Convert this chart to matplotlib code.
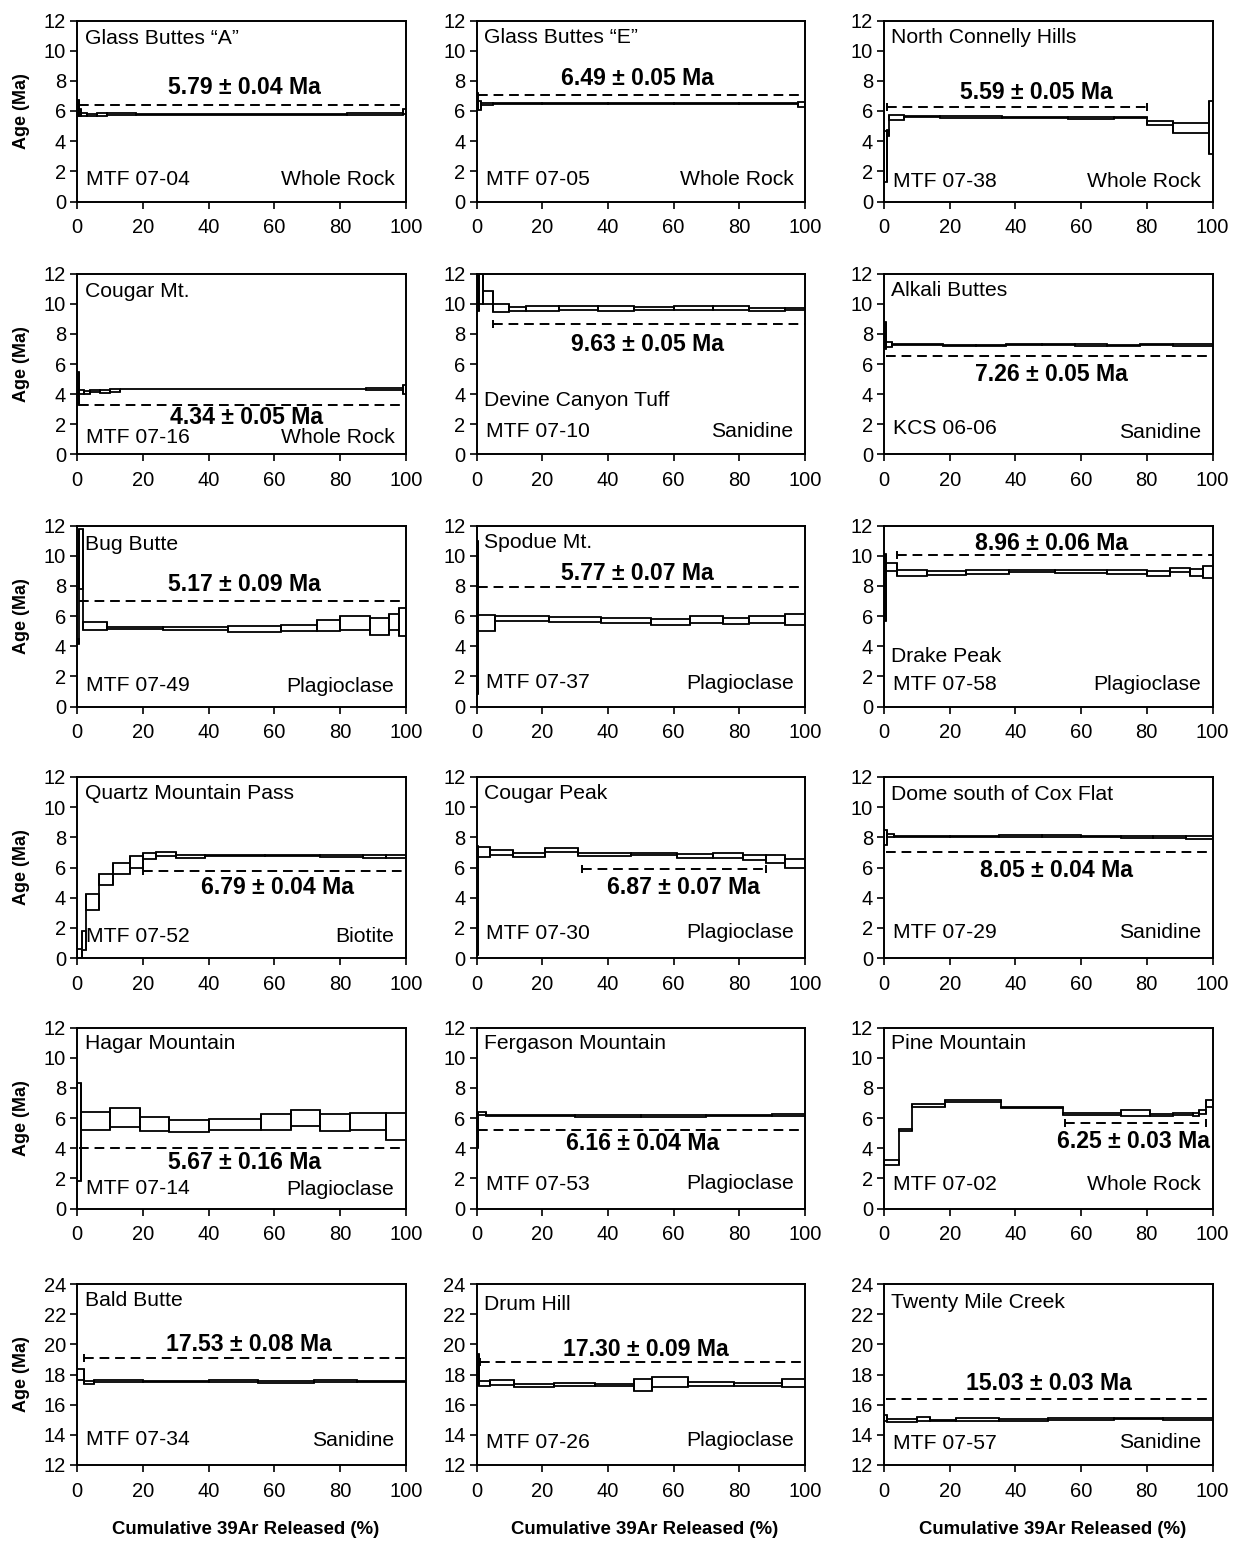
import matplotlib
matplotlib.use("Agg")
import matplotlib.pyplot as plt

plt.rcParams['font.family'] = ['Liberation Sans', 'DejaVu Sans']

# ---- step heating data: step edges (cumulative %), apparent age, 1-sigma half height
gba_edges = [0, 0.5, 1, 3, 6, 9, 18, 82, 99, 100]
gba_age = [6.2, 5.9, 5.8, 5.76, 5.78, 5.8, 5.79, 5.8, 5.95]
gba_err = [0.55, 0.2, 0.1, 0.07, 0.08, 0.04, 0.03, 0.04, 0.18]

gbe_edges = [0, 0.5, 1.5, 5, 20, 40, 60, 80, 98, 100]
gbe_age = [6.7, 6.35, 6.45, 6.48, 6.5, 6.49, 6.5, 6.48, 6.42]
gbe_err = [0.5, 0.3, 0.08, 0.04, 0.04, 0.04, 0.04, 0.04, 0.15]

nch_edges = [0, 0.8, 1.5, 6, 17, 36, 56, 70, 80, 88, 99, 100]
nch_age = [3.0, 4.55, 5.58, 5.62, 5.6, 5.58, 5.52, 5.57, 5.2, 4.86, 4.9]
nch_err = [1.7, 0.2, 0.15, 0.05, 0.05, 0.05, 0.05, 0.05, 0.13, 0.33, 1.75]

cgm_edges = [0, 0.5, 2, 4, 7, 10, 13, 88, 99, 100]
cgm_age = [4.4, 4.15, 4.12, 4.2, 4.15, 4.25, 4.34, 4.33, 4.3]
cgm_err = [1.1, 0.15, 0.1, 0.08, 0.1, 0.08, 0.03, 0.05, 0.3]

dct_edges = [0, 0.8, 2, 5, 10, 15, 25, 37, 48, 60, 72, 83, 94, 100]
dct_age = [11.0, 11.0, 10.4, 9.7, 9.64, 9.7, 9.72, 9.68, 9.68, 9.7, 9.72, 9.6, 9.62]
dct_err = [1.5, 1.0, 0.43, 0.28, 0.15, 0.17, 0.15, 0.15, 0.12, 0.13, 0.15, 0.08, 0.06]

akb_edges = [0, 0.5, 2.5, 18, 28, 37, 48, 58, 68, 78, 88, 100]
akb_age = [7.9, 7.3, 7.3, 7.25, 7.24, 7.27, 7.28, 7.26, 7.24, 7.27, 7.25]
akb_err = [0.9, 0.15, 0.05, 0.04, 0.04, 0.04, 0.04, 0.04, 0.04, 0.04, 0.05]

bgb_edges = [0, 0.6, 1.6, 9, 26, 46, 62, 73, 80, 89, 95, 98, 100]
bgb_age = [4.3, 9.8, 5.35, 5.18, 5.17, 5.13, 5.2, 5.36, 5.53, 5.3, 5.6, 5.6]
bgb_err = [0.15, 2.0, 0.27, 0.07, 0.07, 0.18, 0.22, 0.36, 0.47, 0.57, 0.5, 0.93]

spm_edges = [0, 0.5, 5.5, 22, 38, 53, 65, 75, 83, 94, 100]
spm_age = [5.9, 5.53, 5.83, 5.78, 5.68, 5.59, 5.78, 5.67, 5.78, 5.78]
spm_err = [5.1, 0.53, 0.17, 0.15, 0.17, 0.19, 0.22, 0.22, 0.22, 0.38]

dkp_edges = [0, 0.5, 4, 13, 25, 38, 52, 68, 80, 87, 93, 97, 100]
dkp_age = [7.9, 9.27, 8.86, 8.87, 8.9, 8.97, 8.95, 8.93, 8.8, 9.06, 8.87, 8.93]
dkp_err = [2.2, 0.27, 0.22, 0.13, 0.12, 0.08, 0.08, 0.15, 0.16, 0.11, 0.23, 0.4]

qmp_edges = [0, 1.5, 2.5, 6.5, 11, 16, 20, 24, 30, 39, 57, 74, 87, 94, 100]
qmp_age = [0.3, 1.16, 3.72, 5.2, 5.95, 6.38, 6.77, 6.9, 6.72, 6.78, 6.8, 6.77, 6.72, 6.72]
qmp_err = [0.3, 0.66, 0.52, 0.36, 0.38, 0.38, 0.22, 0.13, 0.08, 0.05, 0.05, 0.05, 0.1, 0.12]

cgp_edges = [0, 0.6, 4, 11, 21, 31, 47, 61, 72, 81, 88, 94, 100]
cgp_age = [3.8, 7.0, 7.0, 6.8, 7.16, 6.88, 6.88, 6.76, 6.79, 6.66, 6.55, 6.27]
cgp_err = [3.6, 0.33, 0.17, 0.13, 0.11, 0.1, 0.08, 0.11, 0.19, 0.17, 0.27, 0.27]

dcf_edges = [0, 1, 3, 20, 35, 48, 60, 72, 82, 92, 100]
dcf_age = [8.0, 8.15, 8.05, 8.05, 8.1, 8.08, 8.05, 8.0, 8.02, 8.0]
dcf_err = [0.5, 0.1, 0.06, 0.05, 0.06, 0.05, 0.05, 0.06, 0.05, 0.1]

hgm_edges = [0, 1, 10, 19, 28, 40, 56, 65, 74, 83, 94, 100]
hgm_age = [5.05, 5.8, 6.03, 5.6, 5.5, 5.55, 5.73, 5.98, 5.7, 5.75, 5.43]
hgm_err = [3.25, 0.6, 0.63, 0.46, 0.4, 0.37, 0.53, 0.52, 0.55, 0.55, 0.88]

fgm_edges = [0, 0.5, 3, 30, 50, 70, 90, 100]
fgm_age = [5.15, 6.3, 6.18, 6.12, 6.14, 6.15, 6.2]
fgm_err = [1.15, 0.1, 0.05, 0.05, 0.05, 0.05, 0.07]

pnm_edges = [0, 4.5, 8.5, 18.5, 35.5, 54.5, 72, 81, 88, 94, 96, 98, 100]
pnm_age = [3.04, 5.22, 6.82, 7.15, 6.68, 6.28, 6.32, 6.2, 6.27, 6.2, 6.4, 6.94]
pnm_err = [0.17, 0.08, 0.08, 0.06, 0.05, 0.05, 0.2, 0.09, 0.06, 0.1, 0.16, 0.24]

bdb_edges = [0, 2, 5, 20, 40, 55, 72, 85, 100]
bdb_age = [18.0, 17.5, 17.55, 17.53, 17.55, 17.52, 17.56, 17.53]
bdb_err = [0.35, 0.1, 0.07, 0.06, 0.06, 0.06, 0.06, 0.06]

drh_edges = [0, 0.7, 4, 11.5, 23.5, 36, 48, 53.5, 64.5, 78.5, 93, 100]
drh_age = [18.33, 17.41, 17.48, 17.28, 17.36, 17.3, 17.32, 17.5, 17.37, 17.35, 17.42]
drh_err = [1.0, 0.19, 0.15, 0.1, 0.09, 0.08, 0.39, 0.32, 0.15, 0.08, 0.25]

tmc_edges = [0, 1, 10, 14, 22, 35, 50, 70, 85, 100]
tmc_age = [15.1, 14.95, 15.05, 14.95, 15.0, 14.97, 15.05, 15.08, 15.05]
tmc_err = [0.2, 0.08, 0.1, 0.06, 0.1, 0.05, 0.05, 0.06, 0.06]

# ---- labels
names = ['Glass Buttes \u201cA\u201d', 'Glass Buttes \u201cE\u201d', 'North Connelly Hills',
         'Cougar Mt.', 'Devine Canyon Tuff', 'Alkali Buttes',
         'Bug Butte', 'Spodue Mt.', 'Drake Peak',
         'Quartz Mountain Pass', 'Cougar Peak', 'Dome south of Cox Flat',
         'Hagar Mountain', 'Fergason Mountain', 'Pine Mountain',
         'Bald Butte', 'Drum Hill', 'Twenty Mile Creek']
sample_ids = ['MTF 07-04', 'MTF 07-05', 'MTF 07-38',
              'MTF 07-16', 'MTF 07-10', 'KCS 06-06',
              'MTF 07-49', 'MTF 07-37', 'MTF 07-58',
              'MTF 07-52', 'MTF 07-30', 'MTF 07-29',
              'MTF 07-14', 'MTF 07-53', 'MTF 07-02',
              'MTF 07-34', 'MTF 07-26', 'MTF 07-57']
minerals = ['Whole Rock', 'Whole Rock', 'Whole Rock',
            'Whole Rock', 'Sanidine', 'Sanidine',
            'Plagioclase', 'Plagioclase', 'Plagioclase',
            'Biotite', 'Plagioclase', 'Sanidine',
            'Plagioclase', 'Plagioclase', 'Whole Rock',
            'Sanidine', 'Plagioclase', 'Sanidine']
plateau_ages = ['5.79 \u00b1 0.04 Ma', '6.49 \u00b1 0.05 Ma', '5.59 \u00b1 0.05 Ma',
                '4.34 \u00b1 0.05 Ma', '9.63 \u00b1 0.05 Ma', '7.26 \u00b1 0.05 Ma',
                '5.17 \u00b1 0.09 Ma', '5.77 \u00b1 0.07 Ma', '8.96 \u00b1 0.06 Ma',
                '6.79 \u00b1 0.04 Ma', '6.87 \u00b1 0.07 Ma', '8.05 \u00b1 0.04 Ma',
                '5.67 \u00b1 0.16 Ma', '6.16 \u00b1 0.04 Ma', '6.25 \u00b1 0.03 Ma',
                '17.53 \u00b1 0.08 Ma', '17.30 \u00b1 0.09 Ma', '15.03 \u00b1 0.03 Ma']
# plateau step ranges (cumulative %)
plateau_from = [0.5, 0.5, 1, 0.5, 5, 0.5, 0.5, 0.5, 4, 20, 32, 0.5, 0.5, 0.5, 55, 2, 1, 0.5]
plateau_to = [100, 100, 80, 100, 100, 100, 100, 100, 100, 100, 88, 100, 100, 100, 98, 100, 100, 100]

steps = [(gba_edges, gba_age, gba_err), (gbe_edges, gbe_age, gbe_err), (nch_edges, nch_age, nch_err),
         (cgm_edges, cgm_age, cgm_err), (dct_edges, dct_age, dct_err), (akb_edges, akb_age, akb_err),
         (bgb_edges, bgb_age, bgb_err), (spm_edges, spm_age, spm_err), (dkp_edges, dkp_age, dkp_err),
         (qmp_edges, qmp_age, qmp_err), (cgp_edges, cgp_age, cgp_err), (dcf_edges, dcf_age, dcf_err),
         (hgm_edges, hgm_age, hgm_err), (fgm_edges, fgm_age, fgm_err), (pnm_edges, pnm_age, pnm_err),
         (bdb_edges, bdb_age, bdb_err), (drh_edges, drh_age, drh_err), (tmc_edges, tmc_age, tmc_err)]

# ---- annotation placement (y of dashed bar, label x/y, name y, id y, mineral y, end ticks)
dash_y = [6.4, 7.05, 6.25, 3.3, 8.68, 6.54, 7.0, 7.93, 10.03, 5.78, 5.9, 7.0,
          4.02, 5.2, 5.64, 19.1, 18.84, 16.35]
label_xy = [(51, 7.56), (49, 8.17), (46.5, 7.23), (51.5, 2.46), (52, 7.3), (51, 5.3),
            (51, 8.06), (49, 8.82), (51, 10.8), (61, 4.68), (63, 4.67), (52.5, 5.8),
            (51, 3.03), (50.5, 4.28), (76, 4.42), (52.4, 19.98), (51.7, 19.67), (50.3, 17.4)]
name_y = [10.8, 10.9, 10.9, 10.8, 3.56, 10.9, 10.75, 10.9, 3.3, 10.9, 10.9, 10.85,
          10.95, 10.95, 10.95, 22.9, 22.65, 22.8]
id_y = [1.45, 1.45, 1.3, 1.1, 1.5, 1.7, 1.4, 1.6, 1.45, 1.45, 1.65, 1.7,
        1.3, 1.6, 1.6, 13.7, 13.5, 13.4]
min_y = [1.45, 1.45, 1.3, 1.1, 1.5, 1.45, 1.3, 1.55, 1.45, 1.45, 1.7, 1.7,
         1.25, 1.65, 1.6, 13.6, 13.6, 13.5]
end_ticks = ['', '', 'lr', '', 'l', '', '', '', 'l', 'l', 'lr', '', '', '', 'lr', 'l', 'l', '']

W, H = 1234, 1543
col_left = [77.3, 476.5, 884]
row_top = [20.5, 273.5, 525.5, 777, 1027.5, 1284]
ax_w, ax_h = 328.5, 181

fig = plt.figure(figsize=(W / 100, H / 100), dpi=100)

for i in range(18):
    r, c = divmod(i, 3)
    ax = fig.add_axes([col_left[c] / W, 1 - (row_top[r] + ax_h) / H, ax_w / W, ax_h / H])
    edges, age, err = steps[i]
    n = len(age)
    left = edges[:-1]
    width = [edges[k + 1] - edges[k] for k in range(n)]
    bottom = [age[k] - err[k] for k in range(n)]
    top = [age[k] + err[k] for k in range(n)]
    height = [2 * e for e in err]
    ax.bar(left, height, width=width, bottom=bottom, align='edge',
           facecolor='white', edgecolor='black', linewidth=1.3, zorder=2)
    # vertical connectors between consecutive steps
    ax.vlines(edges[1:-1], [min(bottom[k], bottom[k + 1]) for k in range(n - 1)],
              [max(top[k], top[k + 1]) for k in range(n - 1)],
              color='black', linewidth=1.3, zorder=2)

    ax.plot([plateau_from[i], plateau_to[i]], [dash_y[i], dash_y[i]], color='black',
            lw=1.4, ls=(0, (5, 3)), zorder=3, clip_on=False)
    if 'l' in end_ticks[i]:
        ax.plot([plateau_from[i]], [dash_y[i]], marker='|', ms=6, mew=1.4, color='black')
    if 'r' in end_ticks[i]:
        ax.plot([plateau_to[i]], [dash_y[i]], marker='|', ms=6, mew=1.4, color='black')

    lx, ly = label_xy[i]
    ax.text(lx, ly, plateau_ages[i], ha='center', va='center', fontsize=16.6,
            fontweight='bold', zorder=4)
    ax.text(2.2, name_y[i], names[i], ha='left', va='center', fontsize=15.2)
    ax.text(2.8, id_y[i], sample_ids[i], ha='left', va='center', fontsize=15.2)
    ax.text(96.5, min_y[i], minerals[i], ha='right', va='center', fontsize=15.2)

    ax.set_xlim(0, 100)
    if r == 5:
        ax.set_ylim(12, 24)
        ax.set_yticks(range(12, 25, 2))
    else:
        ax.set_ylim(0, 12)
        ax.set_yticks(range(0, 13, 2))
    ax.set_xticks(range(0, 101, 20))
    ax.tick_params(direction='out', length=5, width=1.2, labelsize=14.5)
    ax.tick_params(axis='x', pad=7)
    ax.tick_params(axis='y', pad=3)
    for sp in ax.spines.values():
        sp.set_linewidth(1.4)

    if c == 0:
        fig.text(22 / W, 1 - (row_top[r] + ax_h / 2) / H, 'Age (Ma)', rotation=90,
                 ha='center', va='center', fontsize=13, fontweight='bold')
    if r == 5:
        fig.text((col_left[c] + ax_w / 2 + 4) / W, 1 - 1530 / H, 'Cumulative 39Ar Released (%)',
                 ha='center', va='center', fontsize=13.4, fontweight='bold')

fig.savefig('out.png', dpi=100)
